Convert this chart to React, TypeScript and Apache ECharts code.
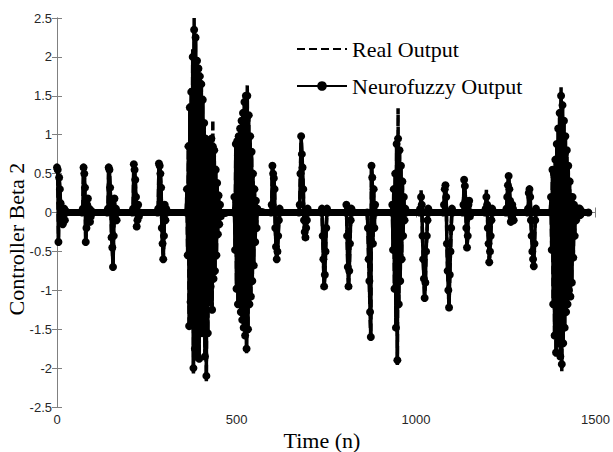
import React, { useEffect, useRef } from "react";
import * as echarts from "echarts";

// Time index where each burst begins and the sample spacing inside bursts
const burstStarts = [0, 72, 142, 212, 282, 362, 494, 598, 676, 738, 806, 866, 934, 1012, 1078, 1132, 1194, 1252, 1312, 1376, 1452];
const sampleStep = 2;
const zeroBandEnd = 1480;

const realBursts: number[][] = [
  [0.6, 0.55, -0.4, 0.45, 0.3, 0.1, -0.1, 0.05, -0.15, -0.1, 0.05, -0.12, 0.02, 0],
  [0.05, 0.6, 0.5, 0.3, -0.39, -0.2, 0.1, 0.2, -0.1, 0.05, -0.13, -0.05, 0.02, 0],
  [0.05, 0.6, 0.55, 0.3, 0.1, -0.3, -0.45, -0.71, -0.3, 0.2, -0.1, 0.05, -0.1, 0],
  [0.05, 0.64, 0.55, 0.4, 0.2, -0.2, -0.1, 0.1, -0.05, 0],
  [0.05, 0.65, 0.6, 0.5, 0.3, -0.2, -0.4, -0.61, -0.3, 0.1, -0.1, 0.05, 0],
  [0.3, -0.6, 0.9, -1.48, 1.4, -1.2, 1.6, -1.5, 2.1, -2.07, 2.5, -1.8, 2.3, -1.9, 2.0, -1.6, 1.9, -1.92, 1.8, -1.5, 1.7, -1.6, 1.5, -1.4, 1.2, -1.9, 1.0, -2.17, 0.9, -1.6, 0.8, -1.2, 0.9, -1.0, 1.0, -1.3, 1.19, -0.9, 0.85, -0.8, 0.6, -0.6, 0.4, -0.3, 0.25, -0.15, 0.1, -0.05],
  [0.2, -0.5, 0.9, -1.0, 0.95, -1.2, 1.0, -0.9, 1.1, -1.3, 1.2, -1.4, 1.3, -1.5, 1.45, -1.6, 1.5, -1.81, 1.64, -1.55, 1.3, -1.2, 1.0, -1.1, 0.8, -0.9, 0.5, -0.7, 0.3, -0.4, 0.15, -0.2, 0.05],
  [0.1, 0.61, 0.5, 0.45, 0.3, -0.2, -0.45, -0.61, -0.5, -0.3, -0.1, 0.05, 0],
  [0.1, 0.5, 1.0, 0.75, 0.6, 0.3, -0.1, -0.25, -0.33, -0.2, -0.1, 0.05, 0],
  [0.05, -0.3, -0.6, -0.97, -0.8, -0.5, -0.2, 0.05, 0],
  [0.1, -0.3, -0.7, -0.97, -0.75, -0.4, -0.1, 0.05, 0],
  [-0.2, -0.6, -0.9, -1.3, -1.61, 0.61, 0.45, -0.4, 0.3, -0.2, 0.1, 0],
  [0.1, -0.5, 0.3, -1.0, 0.5, -1.5, 0.9, -1.96, 1.34, -1.2, 0.8, -0.9, 0.6, -0.6, 0.4, -0.3, 0.2, -0.1, 0.05, 0],
  [0.05, 0.29, 0.1, -0.3, -0.6, -0.85, -1.13, -0.9, -0.5, -0.3, -0.1, 0.05, 0],
  [0.1, 0.3, 0.35, 0.2, -0.4, -0.75, -1.0, -1.23, -0.8, -0.5, -0.2, 0.05, 0],
  [0.1, 0.42, 0.35, 0.15, -0.2, -0.46, -0.3, 0.1, 0.15, -0.05, 0],
  [0.05, 0.29, 0.1, -0.2, -0.4, -0.65, -0.5, -0.3, -0.1, 0.05, 0],
  [0.05, 0.2, 0.35, 0.48, 0.3, 0.15, -0.12, -0.05, 0.1, 0.05, -0.1, 0],
  [0.05, 0.25, 0.32, 0.2, -0.1, -0.3, -0.5, -0.6, -0.7, -0.4, -0.1, 0.05, 0],
  [0.2, -0.5, 0.57, -1.2, 0.5, -1.6, 0.7, -1.85, 0.9, -1.5, 1.1, -1.7, 1.3, -1.9, 1.63, -2.05, 1.4, -1.7, 1.2, -1.5, 1.0, -1.3, 0.8, -1.2, 0.6, -1.0, 0.4, -1.1, 0.2, -0.9, 0.2, -0.6, 0.1, -0.3, 0.05, -0.1],
  [0.05, -0.04, 0.05, -0.03, 0.02, 0],
];

const fuzzyBursts: number[][] = [
  [0.58, 0.55, -0.38, 0.45, 0.3, 0.12, -0.1, 0.05, -0.15, -0.1, 0.05, -0.1, 0.02, 0],
  [0.05, 0.58, 0.5, 0.32, -0.38, -0.2, 0.1, 0.18, -0.1, 0.05, -0.12, -0.05, 0.02, 0],
  [0.05, 0.58, 0.55, 0.32, 0.1, -0.32, -0.45, -0.7, -0.3, 0.18, -0.1, 0.05, -0.1, 0],
  [0.05, 0.62, 0.55, 0.42, 0.2, -0.18, -0.1, 0.1, -0.05, 0],
  [0.05, 0.63, 0.6, 0.5, 0.32, -0.2, -0.4, -0.6, -0.3, 0.1, -0.1, 0.05, 0],
  [0.3, -0.55, 0.85, -1.46, 1.35, -1.15, 1.55, -1.45, 2.0, -2.0, 2.35, -1.75, 2.25, -1.85, 1.95, -1.55, 1.85, -1.88, 1.75, -1.45, 1.65, -1.55, 1.45, -1.35, 1.15, -1.85, 0.95, -2.1, 0.88, -1.55, 0.78, -1.15, 0.85, -0.95, 0.95, -1.25, 0.85, -0.85, 0.8, -0.75, 0.55, -0.55, 0.38, -0.28, 0.22, -0.15, 0.1, -0.05],
  [0.2, -0.48, 0.88, -0.98, 0.92, -1.18, 0.98, -0.88, 1.08, -1.28, 1.18, -1.38, 1.28, -1.48, 1.42, -1.58, 1.5, -1.75, 1.5, -1.5, 1.25, -1.18, 0.98, -1.08, 0.78, -0.88, 0.5, -0.68, 0.3, -0.38, 0.15, -0.2, 0.05],
  [0.1, 0.6, 0.5, 0.44, 0.3, -0.2, -0.44, -0.6, -0.5, -0.3, -0.1, 0.05, 0],
  [0.1, 0.5, 0.98, 0.75, 0.58, 0.3, -0.1, -0.25, -0.32, -0.2, -0.1, 0.05, 0],
  [0.05, -0.3, -0.6, -0.95, -0.8, -0.5, -0.2, 0.05, 0],
  [0.1, -0.3, -0.7, -0.95, -0.75, -0.4, -0.1, 0.05, 0],
  [-0.2, -0.6, -0.88, -1.28, -1.6, 0.6, 0.45, -0.4, 0.3, -0.2, 0.1, 0],
  [0.1, -0.48, 0.3, -0.98, 0.5, -1.48, 0.88, -1.9, 0.95, -1.18, 0.8, -0.88, 0.6, -0.6, 0.4, -0.3, 0.2, -0.1, 0.05, 0],
  [0.05, 0.2, 0.1, -0.3, -0.6, -0.85, -1.1, -0.9, -0.5, -0.3, -0.1, 0.05, 0],
  [0.1, 0.3, 0.35, 0.2, -0.4, -0.75, -1.0, -1.22, -0.8, -0.5, -0.2, 0.05, 0],
  [0.1, 0.42, 0.34, 0.15, -0.2, -0.45, -0.3, 0.1, 0.15, -0.05, 0],
  [0.05, 0.2, 0.1, -0.2, -0.4, -0.64, -0.5, -0.3, -0.1, 0.05, 0],
  [0.05, 0.2, 0.35, 0.47, 0.3, 0.15, -0.12, -0.05, 0.1, 0.05, -0.1, 0],
  [0.05, 0.25, 0.3, 0.2, -0.1, -0.3, -0.5, -0.6, -0.69, -0.4, -0.1, 0.05, 0],
  [0.2, -0.48, 0.55, -1.18, 0.5, -1.58, 0.68, -1.8, 0.88, -1.48, 1.08, -1.68, 1.28, -1.85, 1.5, -1.95, 1.38, -1.68, 1.18, -1.48, 0.98, -1.28, 0.8, -1.18, 0.6, -1.0, 0.4, -1.08, 0.2, -0.9, 0.2, -0.58, 0.1, -0.3, 0.05, -0.1],
  [0.05, -0.04, 0.05, -0.03, 0.02, 0],
];

const xTicks = [0, 500, 1000, 1500];
const yMin = -2.5;
const yMax = 2.5;
const seriesNames = ["Real Output", "Neurofuzzy Output"];

// The signal rests at zero between bursts
function buildSeries(bursts: number[][]): [number, number][] {
  const pts: [number, number][] = [];
  bursts.forEach((b, i) => {
    if (i > 0) pts.push([burstStarts[i] - sampleStep, 0]);
    b.forEach((v, j) => pts.push([burstStarts[i] + j * sampleStep, v]));
  });
  pts.push([zeroBandEnd, 0]);
  return pts;
}

export default function App() {
  const ref = useRef<HTMLDivElement>(null);
  useEffect(() => {
    if (!ref.current) return;
    const chart = echarts.init(ref.current, null, { renderer: "svg" });
    const axisColor = "#808080";
    const serif = "Liberation Serif";
    const labelStyle = { fontFamily: "Liberation Sans", fontSize: 13, color: "#262626" };
    chart.setOption({
      animation: false,
      backgroundColor: "#fff",
      grid: { left: 57, right: 16, top: 18, bottom: 45, containLabel: false },
      legend: {
        data: [
          { name: seriesNames[0], itemStyle: { opacity: 0 } },
          { name: seriesNames[1] },
        ],
        orient: "vertical",
        left: 291,
        top: 33,
        itemGap: 15,
        itemWidth: 50,
        itemHeight: 12,
        textStyle: { fontFamily: serif, fontSize: 22, color: "#000" },
      },
      xAxis: [
        {
          type: "value",
          min: xTicks[0],
          max: xTicks[xTicks.length - 1],
          interval: 500,
          position: "bottom",
          axisLine: { show: true, lineStyle: { color: axisColor, width: 1 } },
          axisTick: { show: true, inside: true, length: 5, lineStyle: { color: axisColor } },
          axisLabel: { ...labelStyle, margin: 6, formatter: (v: number) => String(v) },
          splitLine: { show: false },
        },
        {
          type: "value",
          min: xTicks[0],
          max: xTicks[xTicks.length - 1],
          interval: 500,
          position: "top",
          axisLine: { show: true, lineStyle: { color: axisColor, width: 1 } },
          axisTick: { show: true, inside: true, length: 5, lineStyle: { color: axisColor } },
          axisLabel: { show: false },
          splitLine: { show: false },
        },
      ],
      yAxis: [
        {
          type: "value",
          min: yMin,
          max: yMax,
          interval: 0.5,
          position: "left",
          axisLine: { show: true, lineStyle: { color: axisColor, width: 1 } },
          axisTick: { show: true, inside: true, length: 5, lineStyle: { color: axisColor } },
          axisLabel: { ...labelStyle, margin: 5, formatter: (v: number) => String(v) },
          splitLine: { show: false },
        },
        {
          type: "value",
          min: yMin,
          max: yMax,
          interval: 0.5,
          position: "right",
          axisLine: { show: true, lineStyle: { color: axisColor, width: 1 } },
          axisTick: { show: true, inside: true, length: 5, lineStyle: { color: axisColor } },
          axisLabel: { show: false },
          splitLine: { show: false },
        },
      ],
      graphic: [
        {
          type: "text",
          x: 16,
          y: 239,
          rotation: Math.PI / 2,
          style: {
            text: "Controller Beta 2",
            fontFamily: serif,
            fontSize: 22,
            fill: "#000",
            textAlign: "center",
            textVerticalAlign: "middle",
          },
        },
        {
          type: "text",
          x: 322,
          y: 440,
          style: {
            text: "Time (n)",
            fontFamily: serif,
            fontSize: 22,
            fill: "#000",
            textAlign: "center",
            textVerticalAlign: "middle",
          },
        },
      ],
      series: [
        {
          name: seriesNames[1],
          type: "line",
          data: buildSeries(fuzzyBursts),
          symbol: "circle",
          symbolSize: 8,
          showSymbol: true,
          showAllSymbol: true,
          itemStyle: { color: "#000" },
          lineStyle: { color: "#000", width: 3.5 },
          markLine: {
            silent: true,
            symbol: "none",
            label: { show: false },
            lineStyle: { color: "#000", width: 7, type: "solid" },
            data: [[{ coord: [0, 0] }, { coord: [zeroBandEnd, 0] }]],
          },
          z: 2,
        },
        {
          name: seriesNames[0],
          type: "line",
          data: buildSeries(realBursts),
          symbol: "none",
          itemStyle: { color: "#000" },
          lineStyle: { color: "#000", width: 3.5, type: [8, 4] },
          z: 3,
        },
      ],
    });
    return () => chart.dispose();
  }, []);
  return <div ref={ref} style={{ width: 613, height: 452, position: "absolute", left: 0, top: 0 }} />;
}
